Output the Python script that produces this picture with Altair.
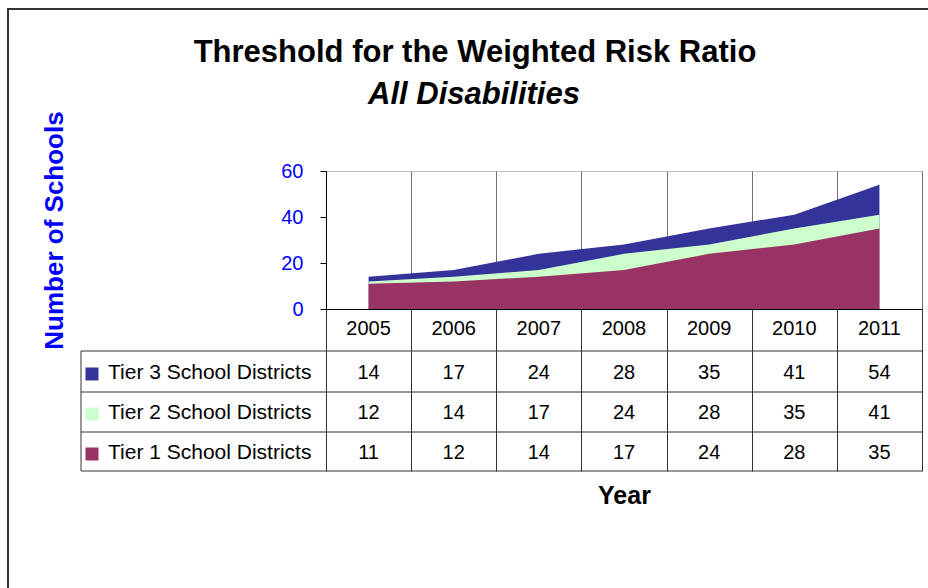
import altair as alt
import pandas as pd

# ---- data -------------------------------------------------------------
years = [2005, 2006, 2007, 2008, 2009, 2010, 2011]
series_names = ["Tier 3 School Districts", "Tier 2 School Districts", "Tier 1 School Districts"]
tier3 = [14, 17, 24, 28, 35, 41, 54]
tier2 = [12, 14, 17, 24, 28, 35, 41]
tier1 = [11, 12, 14, 17, 24, 28, 35]
series_values = [tier3, tier2, tier1]
series_colors = ["#333399", "#CCFFCC", "#993366"]
y_ticks = [0, 20, 40, 60]

rows = []
for name, vals in zip(series_names, series_values):
    for yr, v in zip(years, vals):
        rows.append({"year": yr, "series": name, "value": v})
df = pd.DataFrame(rows)
year_df = pd.DataFrame({"year": years, "label": [str(y) for y in years]})

# column boundaries of the category axis / data table
bounds = [y - 0.5 for y in years] + [years[-1] + 0.5]

FONT = "Liberation Sans"
PLOT_W, PLOT_H = 596, 138
TABLE_BOTTOM = 300          # pixel offset of the table's last line below the plot top
ROW_LINES = [180, 221, 261, TABLE_BOTTOM]
ROW_TEXT_Y = [202, 242, 282]
HEADER_Y = 158
LEFT_EDGE = -245            # table's left edge relative to the plot area

x_scale = alt.Scale(domain=[bounds[0], bounds[-1]], nice=False, zero=False)
y_scale = alt.Scale(domain=[0, 60], nice=False)

x_axis = alt.Axis(
    values=bounds,
    labels=False,
    grid=True,
    gridColor="#707070",
    gridWidth=1,
    ticks=True,
    tickSize=TABLE_BOTTOM - PLOT_H,
    tickColor="#333333",
    domainColor="#000000",
    title="Year",
    titleFont=FONT,
    titleFontSize=25,
    titleFontWeight="bold",
    titleColor="#000000",
    titleBaseline="alphabetic",
    titleY=194,
)

y_axis = alt.Axis(
    values=y_ticks,
    grid=False,
    tickSize=6,
    tickColor="#000000",
    domainColor="#000000",
    labelColor="#0000FF",
    labelFont=FONT,
    labelFontSize=20,
    labelPadding=17,
    title="Number of Schools",
    titleColor="#0000FF",
    titleFont=FONT,
    titleFontSize=26,
    titleFontWeight="bold",
    titleAngle=270,
    titleBaseline="alphabetic",
    titleAlign="center",
    titleX=-264,
    titleY=59,
)

x_enc = alt.X("year:Q", scale=x_scale, axis=x_axis)

layers = []

# overlapping (unstacked) areas, largest series first
for name, color in zip(series_names, series_colors):
    layers.append(
        alt.Chart(df)
        .transform_filter(alt.datum.series == name)
        .mark_area(color=color, opacity=1, interpolate="linear")
        .encode(
            x=x_enc,
            y=alt.Y("value:Q", scale=y_scale, stack=None, axis=y_axis),
        )
    )

# year header row of the data table
layers.append(
    alt.Chart(year_df)
    .mark_text(font=FONT, fontSize=20, color="#000000", baseline="middle", align="center")
    .encode(x=x_enc, y=alt.value(HEADER_Y), text="label:N")
)

# value rows of the data table
for i, name in enumerate(series_names):
    layers.append(
        alt.Chart(df)
        .transform_filter(alt.datum.series == name)
        .mark_text(font=FONT, fontSize=20, color="#000000", baseline="middle", align="center")
        .encode(x=x_enc, y=alt.value(ROW_TEXT_Y[i]), text="value:Q")
    )

# legend keys and series names in the table's first column
legend_df = pd.DataFrame({"series": series_names, "color": series_colors})
for i, name in enumerate(series_names):
    one = alt.Chart(legend_df).transform_filter(alt.datum.series == name)
    layers.append(
        one.mark_square(size=169, opacity=1, color=series_colors[i]).encode(
            x=alt.value(LEFT_EDGE + 11), y=alt.value(ROW_TEXT_Y[i] + 1)
        )
    )
    layers.append(
        one.mark_text(font=FONT, fontSize=21, color="#000000", align="left", baseline="middle").encode(
            x=alt.value(LEFT_EDGE + 27), y=alt.value(ROW_TEXT_Y[i]), text="series:N"
        )
    )

# horizontal rules of the data table
for yy in ROW_LINES:
    layers.append(
        alt.Chart(alt.Data(values=[{}]))
        .mark_rule(color="#333333", strokeWidth=1)
        .encode(x=alt.value(LEFT_EDGE), x2=alt.value(PLOT_W), y=alt.value(yy))
    )
# left edge of the legend column
layers.append(
    alt.Chart(alt.Data(values=[{}]))
    .mark_rule(color="#333333", strokeWidth=1)
    .encode(x=alt.value(LEFT_EDGE), y=alt.value(ROW_LINES[0]), y2=alt.value(TABLE_BOTTOM))
)

# chart title and subtitle
layers.append(
    alt.Chart(alt.Data(values=[{}]))
    .mark_text(font=FONT, fontSize=31, fontWeight="bold", color="#000000", align="center", baseline="alphabetic")
    .encode(x=alt.value(149), y=alt.value(-109), text=alt.value("Threshold for the Weighted Risk Ratio"))
)
layers.append(
    alt.Chart(alt.Data(values=[{}]))
    .mark_text(font=FONT, fontSize=31, fontWeight="bold", fontStyle="italic", color="#000000",
               align="center", baseline="alphabetic")
    .encode(x=alt.value(148), y=alt.value(-67), text=alt.value("All Disabilities"))
)

# outer frame
layers.append(
    alt.Chart(alt.Data(values=[{}]))
    .mark_rect(fill=None, fillOpacity=0, stroke="#333333", strokeWidth=2)
    .encode(x=alt.value(-318), x2=alt.value(620), y=alt.value(-162), y2=alt.value(430))
)

chart = (
    alt.layer(*layers)
    .properties(
        width=PLOT_W,
        height=PLOT_H,
        autosize=alt.AutoSizeParams(type="none"),
        padding={"left": 326, "top": 171, "right": 6, "bottom": 279},
        background="#FFFFFF",
    )
    .configure_view(stroke="#C0C0C0", strokeWidth=1)
)

chart.save("out.html", embed_options={"renderer": "svg", "actions": False})
